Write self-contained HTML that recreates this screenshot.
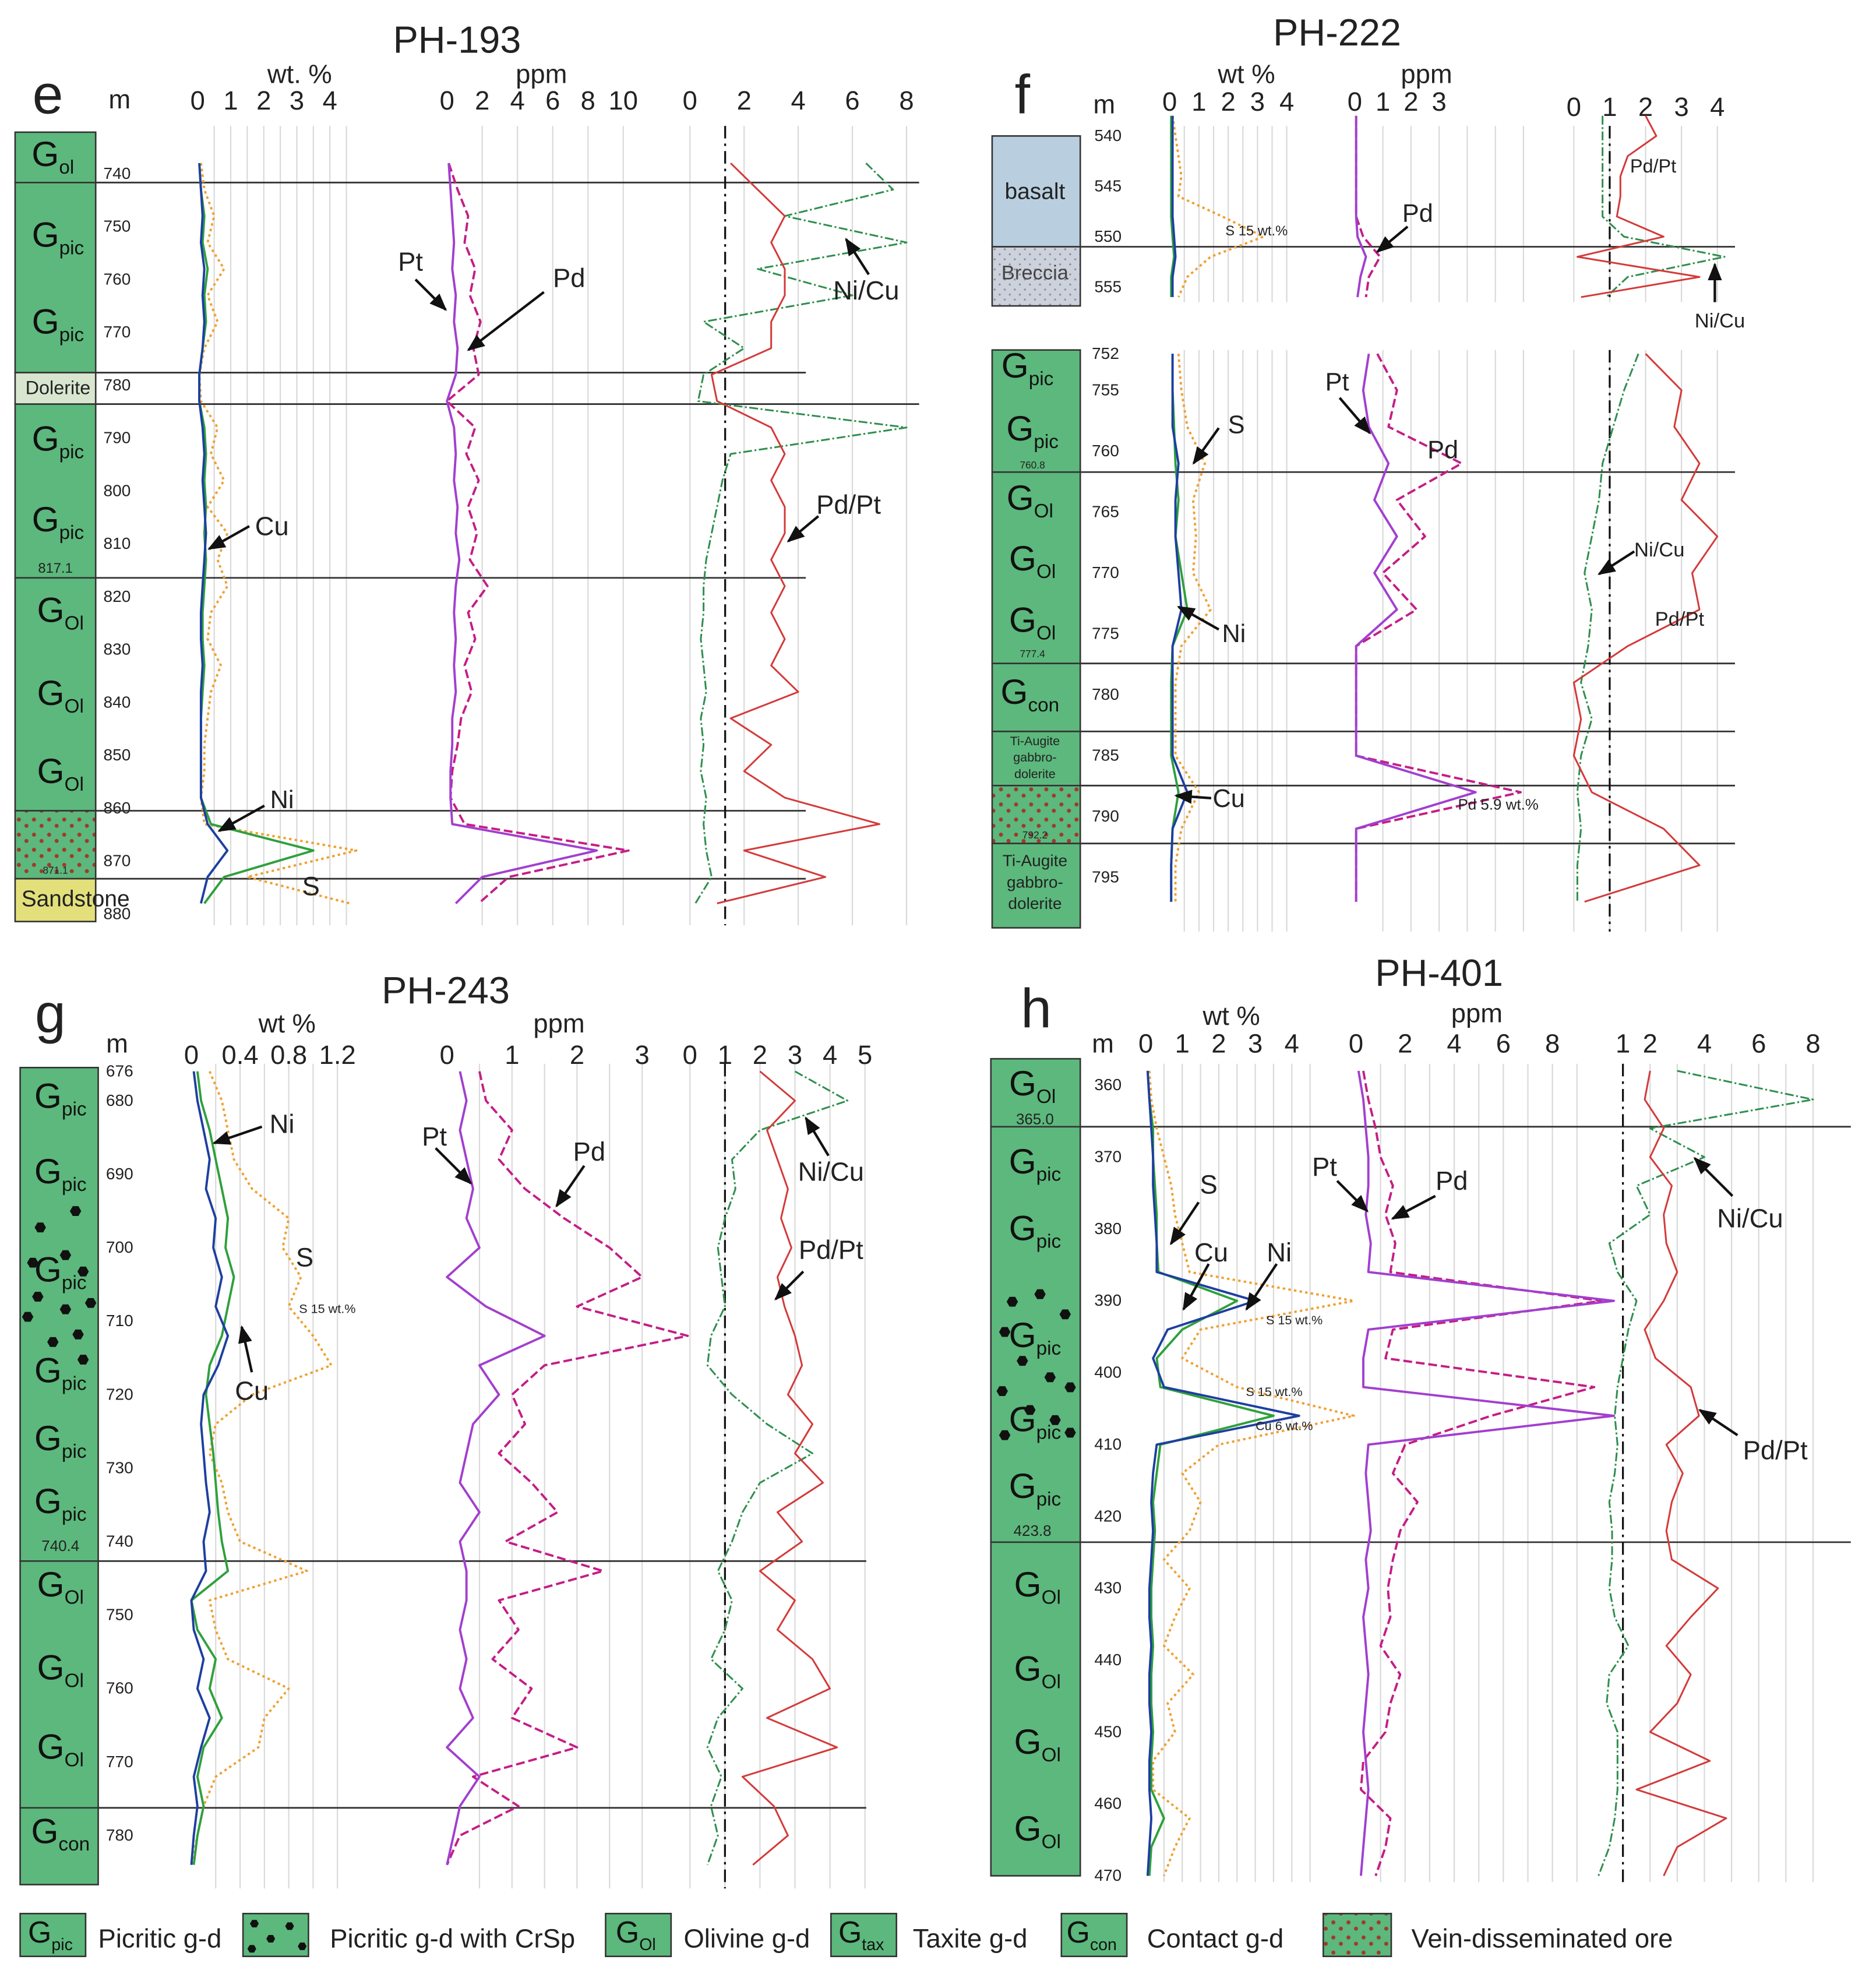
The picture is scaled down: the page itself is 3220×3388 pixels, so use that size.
<!DOCTYPE html>
<html><head><meta charset="utf-8">
<style>
html,body{margin:0;padding:0;background:#fff;}
svg{display:block;font-family:"Liberation Sans",sans-serif;}
</style></head>
<body>
<svg id="chart" xmlns="http://www.w3.org/2000/svg" width="3220" height="3388" viewBox="0 0 1490 1568" preserveAspectRatio="none">
<defs>
<marker id="ah" viewBox="0 0 10 10" refX="9" refY="5" markerWidth="7" markerHeight="7" orient="auto"><path d="M0,1 L10,5 L0,9 z" fill="#111"/></marker>
<pattern id="ore" width="12" height="12" patternUnits="userSpaceOnUse"><rect width="12" height="12" fill="#5cb87c"/><circle cx="3" cy="3" r="1.6" fill="#a03a2a"/><circle cx="9" cy="8" r="1.6" fill="#a03a2a"/></pattern>
<pattern id="brec" width="8" height="8" patternUnits="userSpaceOnUse"><rect width="8" height="8" fill="#cdd1dc"/><circle cx="2" cy="2" r="0.8" fill="#8890a0"/><circle cx="6" cy="6" r="0.8" fill="#8890a0"/></pattern>
</defs>
</svg>
<script>
// ===== Data =====
// Panel e (PH-193)
const eDepth=[738,743,748,753,758,763,768,773,778,783,788,793,798,803,808,813,818,823,828,833,838,843,848,853,858,863,868,873,878];
const eCu=[0.05,0.1,0.15,0.1,0.2,0.15,0.2,0.15,0.05,0.05,0.15,0.2,0.15,0.2,0.25,0.2,0.15,0.1,0.1,0.15,0.1,0.1,0.1,0.1,0.1,0.3,0.9,0.3,0.1];
const eNi=[0.05,0.1,0.2,0.15,0.3,0.2,0.25,0.15,0.05,0.05,0.2,0.25,0.2,0.25,0.2,0.25,0.2,0.15,0.15,0.2,0.15,0.1,0.1,0.1,0.1,0.4,3.5,0.8,0.2];
const eS=[0.1,0.2,0.5,0.3,0.8,0.3,0.6,0.2,0.05,0.1,0.6,0.4,0.8,0.3,0.9,0.6,0.9,0.4,0.3,0.7,0.4,0.3,0.2,0.2,0.1,0.2,4.8,1.5,4.6];
const ePt=[0.1,0.2,0.3,0.4,0.3,0.5,0.4,0.6,0.5,0.0,0.4,0.5,0.4,0.6,0.5,0.7,0.5,0.4,0.5,0.4,0.5,0.3,0.3,0.2,0.2,0.3,8.5,2.0,0.5];
const ePd=[0.1,0.6,1.2,1.0,1.6,1.3,1.9,1.5,1.8,0.0,1.6,1.1,1.8,1.2,1.7,1.3,2.3,1.2,1.6,1.0,1.4,0.8,0.6,0.3,0.2,1.0,10.3,3.5,1.8];
const eNiCu=[6.5,7.5,3.5,8,2.5,6,0.5,2,0.5,0.3,8,1.5,1.2,1.0,0.8,0.6,0.5,0.5,0.4,0.5,0.6,0.4,0.5,0.4,0.6,0.5,0.6,0.8,0.2];
const ePdPt=[1.5,2.5,3.5,3,3.5,3.5,3,3,0.8,1,3,3.5,3,3.5,3.5,3,3.5,3,3.5,3,4,1.5,3,2,3.5,7,2,5,1];
// Panel f (PH-222) upper
const fuDepth=[538,540,542,544,546,548,550,552,554,556];
const fuCu=[0.1,0.1,0.1,0.1,0.1,0.1,0.15,0.2,0.1,0.1];
const fuNi=[0.05,0.05,0.05,0.05,0.05,0.05,0.1,0.15,0.05,0.05];
const fuS=[0.1,0.2,0.3,0.4,0.3,1.8,3.2,1.4,0.6,0.3];
const fuPt=[0.05,0.05,0.05,0.05,0.05,0.05,0.1,0.4,0.2,0.1];
const fuPd=[0.05,0.05,0.05,0.05,0.05,0.05,0.3,0.9,0.5,0.4];
const fuNiCu=[0.8,0.8,0.8,0.8,0.8,0.8,1.4,4.2,1.5,0.9];
const fuPdPt=[2,2.3,1.5,1.3,1.3,1.2,2.5,0.1,3.5,0.2];
// Panel f lower
const flDepth=[752,755,758,761,764,767,770,773,776,779,782,785,788,791,794,797];
const flCu=[0.1,0.1,0.1,0.3,0.2,0.2,0.3,0.4,0.1,0.1,0.1,0.1,0.6,0.1,0.05,0.05];
const flNi=[0.1,0.1,0.15,0.2,0.3,0.2,0.4,0.6,0.1,0.05,0.05,0.05,0.3,0.1,0.05,0.05];
const flS=[0.3,0.4,0.6,1.2,0.8,0.9,0.8,1.4,0.4,0.2,0.2,0.2,1.0,0.4,0.2,0.2];
const flPt=[0.5,0.3,0.5,1.2,0.7,1.5,0.7,1.5,0.05,0.05,0.05,0.05,4.3,0.05,0.05,0.05];
const flPd=[0.8,1.5,1.2,3.8,1.5,2.5,1.0,2.2,0.05,0.05,0.05,0.05,5.9,0.05,0.05,0.05];
const flNiCu=[1.8,1.4,1.1,0.8,0.7,0.5,0.3,0.5,0.4,0.2,0.5,0.2,0.1,0.2,0.1,0.1];
const flPdPt=[2,3,2.8,3.5,3,4,3.3,3.5,1.5,0,0.2,0,0.5,2.5,3.5,0.3];
// Panel g (PH-243)
const gDepth=[676,680,684,688,692,696,700,704,708,712,716,720,724,728,732,736,740,744,748,752,756,760,764,768,772,776,780,784];
const gCu=[0.02,0.05,0.1,0.15,0.12,0.2,0.18,0.25,0.2,0.3,0.22,0.1,0.08,0.1,0.12,0.15,0.1,0.12,0.0,0.02,0.1,0.05,0.15,0.08,0.02,0.05,0.02,0.0];
const gNi=[0.05,0.08,0.15,0.2,0.25,0.3,0.28,0.35,0.3,0.25,0.15,0.12,0.15,0.18,0.2,0.22,0.25,0.3,0.0,0.05,0.2,0.15,0.25,0.1,0.05,0.1,0.05,0.02];
const gS=[0.15,0.25,0.3,0.35,0.5,0.8,0.75,0.9,0.8,1.0,1.15,0.5,0.2,0.15,0.25,0.3,0.4,0.95,0.15,0.2,0.3,0.8,0.6,0.55,0.2,0.1,0.05,0.0];
const gPt=[0.2,0.3,0.2,0.3,0.4,0.3,0.5,0.0,0.6,1.5,0.5,0.8,0.4,0.3,0.2,0.5,0.2,0.3,0.3,0.2,0.3,0.2,0.4,0.0,0.5,0.2,0.1,0.0];
const gPd=[0.5,0.6,1.0,0.8,1.2,1.8,2.5,3.0,2.0,3.7,1.5,1.0,1.2,0.8,1.3,1.7,0.9,2.4,0.8,1.1,0.7,1.3,1.0,2.0,0.4,1.1,0.2,0.0];
const gNiCu=[3,4.5,2,1.2,1.3,1.0,0.8,0.9,1.0,0.6,0.5,1.2,2.2,3.5,2,1.5,1.2,0.8,1.2,1,0.6,1.5,0.8,0.5,0.9,0.6,0.8,0.5];
const gPdPt=[2,3,2.2,2.5,2.8,2.6,2.9,2.5,2.7,3.0,3.2,2.8,3.5,3,3.8,2.5,3.2,2,3,2.5,3.5,4,2.2,4.2,1.5,2.4,2.8,1.8];
// Panel h (PH-401)
const hDepth=[358,362,366,370,374,378,382,386,390,394,398,402,406,410,414,418,422,426,430,434,438,442,446,450,454,458,462,466,470];
const hCu=[0.05,0.1,0.15,0.2,0.2,0.25,0.3,0.3,3.0,0.6,0.2,0.5,4.2,0.3,0.2,0.15,0.2,0.15,0.1,0.1,0.15,0.1,0.1,0.15,0.1,0.1,0.15,0.1,0.05];
const hNi=[0.05,0.1,0.2,0.2,0.25,0.3,0.3,0.35,2.5,1.0,0.3,0.4,3.5,0.4,0.3,0.2,0.25,0.2,0.15,0.15,0.2,0.15,0.15,0.2,0.15,0.15,0.5,0.15,0.1];
const hS=[0.1,0.15,0.3,0.5,0.7,0.8,1.0,1.2,5.7,1.5,1.0,2.5,5.7,2.0,1.0,1.5,1.2,0.5,1.2,0.8,0.5,1.3,0.6,0.8,0.2,0.2,1.2,0.8,0.5];
const hPt=[0.1,0.3,0.4,0.5,0.5,0.4,0.6,0.5,10.5,0.5,0.3,0.3,10.5,0.5,0.4,0.5,0.6,0.4,0.5,0.3,0.4,0.5,0.4,0.3,0.4,0.5,0.4,0.3,0.2];
const hPd=[0.3,0.5,0.8,1.0,1.5,1.2,1.6,1.4,10.0,1.5,1.2,9.7,5.5,2.0,1.5,2.5,1.8,1.5,1.3,1.4,1.0,1.8,1.4,1.2,0.3,0.2,1.4,1.2,0.8];
const hNiCu=[3,8,2,4,1.5,2,0.5,0.8,1.5,1.2,1.0,0.8,0.7,0.8,0.7,0.5,0.6,0.6,0.5,0.7,1.2,0.5,0.4,0.8,0.8,0.8,0.7,0.5,0.1];
const hPdPt=[2,1.8,2.5,2,2.8,2.5,2.6,3,2.5,1.8,2.2,3.5,3.8,2.6,3.2,2.8,2.6,2.8,4.5,3.5,2.6,3.5,3.0,2.0,4.2,1.5,4.8,3,2.5];

// Tick arrays
const eTicksWt=[0,1,2,3,4], eTicksPpm=[0,2,4,6,8,10], eTicksRat=[0,2,4,6,8];
const fTicksWt=[0,1,2,3,4], fTicksPpm=[0,1,2,3], fTicksRat=[0,1,2,3,4];
const gTicksWt=[0,0.4,0.8,1.2], gTicksPpm=[0,1,2,3], gTicksRat=[0,1,2,3,4,5];
const hTicksWt=[0,1,2,3,4], hTicksPpm=[0,2,4,6,8], hTicksRat=[1,2,4,6,8];

// ===== Drawing helpers =====
const NS='http://www.w3.org/2000/svg';
const svg=document.getElementById('chart');
function mk(tag,attrs,name,parent){
  const el=document.createElementNS(NS,tag);
  for(const k in attrs) el.setAttribute(k,attrs[k]);
  
  
  (parent||svg).appendChild(el);
  return el;
}
function txt(x,y,s,size,name,anchor,fill,weight){
  const t=mk('text',{x:x,y:y,'font-size':size,'text-anchor':anchor||'middle',fill:fill||'#222'},name);
  if(weight) t.setAttribute('font-weight',weight);
  t.textContent=s;return t;
}
function lin(a,b,c,d,name,stroke,w,dash){
  const l=mk('line',{x1:a,y1:b,x2:c,y2:d,stroke:stroke||'#222','stroke-width':w||1.2},name);
  if(dash) l.setAttribute('stroke-dasharray',dash);
  return l;
}
function lscale(v0,p0,v1,p1){return v=>p0+(v-v0)*(p1-p0)/(v1-v0);}
const ST={
  Cu:{c:'#1e3fa0',w:1.8,d:null},
  Ni:{c:'#2fa03c',w:1.8,d:null},
  S:{c:'#f0a030',w:1.8,d:'2 2.5'},
  Pt:{c:'#a23fcf',w:1.8,d:null},
  Pd:{c:'#c41d86',w:1.8,d:'7 3'},
  NiCu:{c:'#2f8f4f',w:1.4,d:'7 2 1.5 2'},
  PdPt:{c:'#d43a3a',w:1.4,d:null}
};
function series(depths,vals,xf,yf,key,name){
  const pts=depths.map((d,i)=>xf(vals[i]).toFixed(1)+','+yf(d).toFixed(1)).join(' ');
  const s=ST[key];
  const p=mk('polyline',{points:pts,fill:'none',stroke:s.c,'stroke-width':s.w,'stroke-linejoin':'round'},name);
  if(s.d) p.setAttribute('stroke-dasharray',s.d);
}
function grid(ticks,xf,y0,y1,name){
  ticks.forEach(t=>lin(xf(t),y0,xf(t),y1,name,'#d9d9d9',1));
}
function tickLabels(ticks,xf,y,size,name){
  ticks.forEach(t=>txt(xf(t),y,String(t),size,name));
}
function arrow(x1,y1,x2,y2,label,lx,ly,size,name){
  const l=lin(x1,y1,x2,y2,name+'-arrow','#111',2);
  l.setAttribute('marker-end','url(#ah)');
  if(label) txt(lx,ly,label,size||20,name+'-label');
}
function lith(x,y,w,h,fill,name){
  mk('rect',{x:x,y:y,width:w,height:h,fill:fill,stroke:'#333','stroke-width':1.2},name);
}
function glabel(x,y,sub,name,size){
  const t=mk('text',{x:x,y:y,'font-size':size||28,'text-anchor':'middle',fill:'#111'},name);
  t.appendChild(document.createTextNode('G'));
  const ts=document.createElementNS(NS,'tspan');
  ts.setAttribute('font-size',(size||28)*0.55);ts.setAttribute('dy','6');
  ts.textContent=sub;t.appendChild(ts);
}
function hexdots(cx,cy,r,name){
  const pts=[];for(let k=0;k<6;k++){const a=Math.PI/3*k;pts.push((cx+r*Math.cos(a)).toFixed(1)+','+(cy+r*Math.sin(a)).toFixed(1));}
  mk('polygon',{points:pts.join(' '),fill:'#111'},name);
}

// ===== Panel e =====
(function(){
  const y=lscale(740,138,880,726);
  const xw=lscale(0,157,4,262), xp=lscale(0,355,10,495), xr=lscale(0,548,8,720);
  grid([0.5,1,1.5,2,2.5,3,3.5,4,4.5],xw,100,735,'e-grid-wt');
  grid([2,4,6,8,10],xp,100,735,'e-grid-ppm');
  grid([0,2,4,6,8],xr,100,735,'e-grid-ratio');
  txt(363,42,'PH-193',30,'e-title');
  txt(38,90,'e',44,'e-panel-letter');
  txt(95,86,'m',21,'e-depth-unit');
  txt(238,66,'wt. %',21,'e-wt-unit');
  txt(430,66,'ppm',21,'e-ppm-unit');
  tickLabels(eTicksWt,xw,87,21,'e-tick-wt');
  tickLabels(eTicksPpm,xp,87,21,'e-tick-ppm');
  tickLabels(eTicksRat,xr,87,21,'e-tick-ratio');
  lith(12,105,64,40,'#5cb87c','e-lith-gol');glabel(42,132,'ol','e-lith-gol-label');
  lith(12,145,64,151,'#5cb87c','e-lith-gpic1');glabel(46,196,'pic','e-lith-gpic-label');glabel(46,265,'pic','e-lith-gpic-label2');
  lith(12,296,64,25,'#d8e6cf','e-lith-dolerite');txt(46,313,'Dolerite',15,'e-lith-dolerite-label');
  lith(12,321,64,138,'#5cb87c','e-lith-gpic2');glabel(46,358,'pic','e-lith-gpic-label3');glabel(46,422,'pic','e-lith-gpic-label4');txt(44,455,'817.1',11,'e-lith-depth-note');
  lith(12,459,64,185,'#5cb87c','e-lith-gol2');glabel(48,494,'Ol','e-lith-gol-label2');glabel(48,560,'Ol','e-lith-gol-label3');glabel(48,622,'Ol','e-lith-gol-label4');
  lith(12,644,64,54,'url(#ore)','e-lith-ore');txt(44,694,'871.1',8,'e-lith-ore-note');
  lith(12,698,64,34,'#e3e07c','e-lith-sandstone');txt(60,720,'Sandstone',18,'e-lith-sandstone-label');
  for(let d=740;d<=880;d+=10) txt(93,y(d)+4,String(d),13,'e-depth-tick');
  [145,296,321,459,644,698].forEach(v=>lin(76,v,v===145||v===321?730:640,v,'e-boundary','#333',1.3));
  lin(xr(1.3),100,xr(1.3),735,'e-ratio-one-line','#111',1.5,'10 4 2 4');
  series(eDepth,eS,xw,y,'S','e-series-s');
  series(eDepth,eNi,xw,y,'Ni','e-series-ni');
  series(eDepth,eCu,xw,y,'Cu','e-series-cu');
  series(eDepth,ePd,xp,y,'Pd','e-series-pd');
  series(eDepth,ePt,xp,y,'Pt','e-series-pt');
  series(eDepth,eNiCu,xr,y,'NiCu','e-series-nicu');
  series(eDepth,ePdPt,xr,y,'PdPt','e-series-pdpt');
  arrow(330,222,354,246,'Pt',326,215,21,'e-pt-annot');
  arrow(432,232,372,278,'Pd',452,228,21,'e-pd-annot');
  arrow(690,218,672,190,'Ni/Cu',688,238,21,'e-nicu-annot');
  arrow(650,410,626,430,'Pd/Pt',674,408,21,'e-pdpt-annot');
  arrow(198,418,166,436,'Cu',216,425,21,'e-cu-annot');
  arrow(210,640,174,660,'Ni',224,642,20,'e-ni-annot');
  txt(247,711,'S',21,'e-s-label');
})();

// ===== Panel f =====
(function(){
  const yu=lscale(540,108,555,228), yl=lscale(752,281,795,697);
  const xw=lscale(0,929,4,1022), xp=lscale(0,1076,3,1143), xr=lscale(0,1250,4,1364);
  [[100,240],[278,740]].forEach(r=>{
    grid([0.5,1,1.5,2,2.5,3,3.5,4],xw,r[0],r[1],'f-grid-wt');
    grid([1,2,3,4,5,6],xp,r[0],r[1],'f-grid-ppm');
    grid([0,1,2,3,4],xr,r[0],r[1],'f-grid-ratio');
  });
  txt(1062,36,'PH-222',30,'f-title');
  txt(812,90,'f',44,'f-panel-letter');
  txt(877,90,'m',21,'f-depth-unit');
  txt(990,66,'wt %',21,'f-wt-unit');
  txt(1133,66,'ppm',21,'f-ppm-unit');
  tickLabels(fTicksWt,xw,88,21,'f-tick-wt');
  tickLabels(fTicksPpm,xp,88,21,'f-tick-ppm');
  tickLabels(fTicksRat,xr,92,21,'f-tick-ratio');
  lith(788,108,70,88,'#b9cfe0','f-lith-basalt');txt(822,158,'basalt',18,'f-lith-basalt-label');
  lith(788,196,70,47,'url(#brec)','f-lith-breccia');txt(822,222,'Breccia',16,'f-lith-breccia-label','middle','#444');
  lith(788,278,70,97,'#5cb87c','f-lith-gpic');glabel(816,300,'pic','f-lith-gpic-label');glabel(820,350,'pic','f-lith-gpic-label2');txt(820,372,'760.8',8,'f-lith-note');
  lith(788,375,70,152,'#5cb87c','f-lith-gol');glabel(818,405,'Ol','f-lith-gol-label');glabel(820,453,'Ol','f-lith-gol-label2');glabel(820,502,'Ol','f-lith-gol-label3');txt(820,522,'777.4',8,'f-lith-note2');
  lith(788,527,70,54,'#5cb87c','f-lith-gcon');glabel(818,559,'con','f-lith-gcon-label');
  lith(788,581,70,43,'#5cb87c','f-lith-tiaugite');txt(822,592,'Ti-Augite',10,'f-lith-tiaug-label');txt(822,605,'gabbro-',10,'f-lith-tiaug-label2');txt(822,618,'dolerite',10,'f-lith-tiaug-label3');
  lith(788,624,70,46,'url(#ore)','f-lith-ore');txt(822,666,'792.2',8,'f-lith-ore-note');
  lith(788,670,70,67,'#5cb87c','f-lith-tiaugite2');txt(822,688,'Ti-Augite',13,'f-lith-tiaug2-label');txt(822,705,'gabbro-',13,'f-lith-tiaug2-label2');txt(822,722,'dolerite',13,'f-lith-tiaug2-label3');
  for(let d=540;d<=555;d+=5) txt(880,yu(d)+4,String(d),13,'f-depth-tick');
  [752,755,760,765,770,775,780,785,790,795].forEach(d=>txt(878,yl(d)+4,String(d),13,'f-depth-tick-lower'));
  lin(858,196,1378,196,'f-boundary','#333',1.3);
  [375,527,581,624,670].forEach(v=>lin(858,v,1378,v,'f-boundary','#333',1.3));
  lin(xr(1),100,xr(1),240,'f-ratio-one-line','#111',1.5,'10 4 2 4');
  lin(xr(1),278,xr(1),740,'f-ratio-one-line-lower','#111',1.5,'10 4 2 4');
  series(fuDepth,fuS,xw,yu,'S','f-series-s-upper');
  series(fuDepth,fuNi,xw,yu,'Ni','f-series-ni-upper');
  series(fuDepth,fuCu,xw,yu,'Cu','f-series-cu-upper');
  series(fuDepth,fuPd,xp,yu,'Pd','f-series-pd-upper');
  series(fuDepth,fuPt,xp,yu,'Pt','f-series-pt-upper');
  series(fuDepth,fuNiCu,xr,yu,'NiCu','f-series-nicu-upper');
  series(fuDepth,fuPdPt,xr,yu,'PdPt','f-series-pdpt-upper');
  series(flDepth,flS,xw,yl,'S','f-series-s');
  series(flDepth,flNi,xw,yl,'Ni','f-series-ni');
  series(flDepth,flCu,xw,yl,'Cu','f-series-cu');
  series(flDepth,flPd,xp,yl,'Pd','f-series-pd');
  series(flDepth,flPt,xp,yl,'Pt','f-series-pt');
  series(flDepth,flNiCu,xr,yl,'NiCu','f-series-nicu');
  series(flDepth,flPdPt,xr,yl,'PdPt','f-series-pdpt');
  txt(998,187,'S 15 wt.%',11,'f-s-note');
  arrow(1118,180,1094,200,'Pd',1126,176,20,'f-pd-annot-upper');
  txt(1313,137,'Pd/Pt',15,'f-pdpt-label-upper');
  arrow(1362,240,1362,210,'Ni/Cu',1366,260,16,'f-nicu-annot-upper');
  arrow(1064,316,1088,344,'Pt',1062,310,20,'f-pt-annot');
  txt(1146,364,'Pd',20,'f-pd-label');
  arrow(968,340,948,368,'S',982,344,20,'f-s-annot');
  arrow(968,500,936,482,'Ni',980,510,20,'f-ni-annot');
  arrow(962,634,934,632,'Cu',976,641,20,'f-cu-annot');
  txt(1190,643,'Pd 5.9 wt.%',12,'f-pd-note');
  arrow(1298,438,1270,456,'Ni/Cu',1318,442,16,'f-nicu-annot');
  txt(1334,497,'Pd/Pt',16,'f-pdpt-label');
})();

// ===== Panel g =====
(function(){
  const y=lscale(676,851,780,1458);
  const xw=lscale(0,152,1.2,268), xp=lscale(0,355,3,510), xr=lscale(0,548,5,687);
  grid([0.2,0.4,0.6,0.8,1.0,1.2],xw,845,1500,'g-grid-wt');
  grid([0.5,1,1.5,2,2.5,3],xp,845,1500,'g-grid-ppm');
  grid([0,1,2,3,4,5],xr,845,1500,'g-grid-ratio');
  txt(354,797,'PH-243',30,'g-title');
  txt(40,820,'g',44,'g-panel-letter');
  txt(93,836,'m',21,'g-depth-unit');
  txt(228,820,'wt %',21,'g-wt-unit');
  txt(444,820,'ppm',21,'g-ppm-unit');
  tickLabels(gTicksWt,xw,845,21,'g-tick-wt');
  tickLabels(gTicksPpm,xp,845,21,'g-tick-ppm');
  tickLabels(gTicksRat,xr,845,21,'g-tick-ratio');
  lith(16,848,62,392,'#5cb87c','g-lith-gpic');
  [[880,'pic'],[940,'pic'],[1018,'pic'],[1098,'pic'],[1152,'pic'],[1202,'pic']].forEach(a=>glabel(48,a[0],a[1],'g-lith-gpic-label'));
  txt(48,1232,'740.4',12,'g-lith-note');
  [[60,962],[32,975],[52,997],[26,1003],[66,1010],[30,1030],[52,1040],[72,1035],[22,1046],[42,1066],[62,1060],[66,1080]].forEach((p,i)=>hexdots(p[0],p[1],4.5,'g-crsp-dot'));
  lith(16,1240,62,196,'#5cb87c','g-lith-gol');
  [1268,1334,1397].forEach(v=>glabel(48,v,'Ol','g-lith-gol-label'));
  lith(16,1436,62,61,'#5cb87c','g-lith-gcon');glabel(48,1464,'con','g-lith-gcon-label');
  txt(95,y(676)+4,'676',13,'g-depth-tick');
  for(let d=680;d<=780;d+=10) txt(95,y(d)+4,String(d),13,'g-depth-tick');
  [1240,1436].forEach(v=>lin(78,v,688,v,'g-boundary','#333',1.3));
  lin(xr(1),845,xr(1),1500,'g-ratio-one-line','#111',1.5,'10 4 2 4');
  series(gDepth,gS,xw,y,'S','g-series-s');
  series(gDepth,gNi,xw,y,'Ni','g-series-ni');
  series(gDepth,gCu,xw,y,'Cu','g-series-cu');
  series(gDepth,gPd,xp,y,'Pd','g-series-pd');
  series(gDepth,gPt,xp,y,'Pt','g-series-pt');
  series(gDepth,gNiCu,xr,y,'NiCu','g-series-nicu');
  series(gDepth,gPdPt,xr,y,'PdPt','g-series-pdpt');
  arrow(208,895,170,908,'Ni',224,900,21,'g-ni-annot');
  arrow(200,1090,192,1054,'Cu',200,1112,21,'g-cu-annot');
  txt(242,1006,'S',21,'g-s-label');
  txt(260,1043,'S 15 wt.%',10,'g-s-note');
  arrow(346,912,374,940,'Pt',345,910,21,'g-pt-annot');
  arrow(464,926,442,958,'Pd',468,922,21,'g-pd-annot');
  arrow(658,918,640,888,'Ni/Cu',660,938,21,'g-nicu-annot');
  arrow(638,1010,616,1032,'Pd/Pt',660,1000,21,'g-pdpt-annot');
})();

// ===== Panel h =====
(function(){
  const y=lscale(360,862,470,1490);
  const xw=lscale(0,910,4,1026), xp=lscale(0,1077,8,1233), xr=lscale(1,1289,8,1440);
  grid([0.5,1,1.5,2,2.5,3,3.5,4,4.5],xw,845,1495,'h-grid-wt');
  grid([1,2,3,4,5,6,7,8,9],xp,845,1495,'h-grid-ppm');
  grid([2,3,4,5,6,7,8],xr,845,1495,'h-grid-ratio');
  txt(1143,783,'PH-401',30,'h-title');
  txt(823,816,'h',44,'h-panel-letter');
  txt(876,836,'m',21,'h-depth-unit');
  txt(978,814,'wt %',21,'h-wt-unit');
  txt(1173,812,'ppm',21,'h-ppm-unit');
  tickLabels(hTicksWt,xw,836,21,'h-tick-wt');
  tickLabels(hTicksPpm,xp,836,21,'h-tick-ppm');
  tickLabels(hTicksRat,xr,836,21,'h-tick-ratio');
  lith(787,841,71,54,'#5cb87c','h-lith-gol');glabel(820,870,'Ol','h-lith-gol-label');txt(822,893,'365.0',12,'h-lith-note');
  lith(787,895,71,330,'#5cb87c','h-lith-gpic');
  [[932,'pic'],[985,'pic'],[1070,'pic'],[1137,'pic'],[1190,'pic']].forEach(a=>glabel(822,a[0],a[1],'h-lith-gpic-label'));
  txt(820,1220,'423.8',12,'h-lith-note2');
  [[804,1034],[826,1028],[846,1044],[798,1058],[812,1081],[834,1094],[850,1102],[796,1105],[818,1120],[838,1128],[850,1138],[798,1140]].forEach(p=>hexdots(p[0],p[1],4.5,'h-crsp-dot'));
  lith(787,1225,71,265,'#5cb87c','h-lith-gol2');
  [1268,1335,1393,1462].forEach(v=>glabel(824,v,'Ol','h-lith-gol-label2'));
  for(let d=360;d<=470;d+=10) txt(880,y(d)+4,String(d),13,'h-depth-tick');
  [895,1225].forEach(v=>lin(858,v,1470,v,'h-boundary','#333',1.3));
  lin(xr(1),845,xr(1),1495,'h-ratio-one-line','#111',1.5,'10 4 2 4');
  series(hDepth,hS,xw,y,'S','h-series-s');
  series(hDepth,hNi,xw,y,'Ni','h-series-ni');
  series(hDepth,hCu,xw,y,'Cu','h-series-cu');
  series(hDepth,hPd,xp,y,'Pd','h-series-pd');
  series(hDepth,hPt,xp,y,'Pt','h-series-pt');
  series(hDepth,hNiCu,xr,y,'NiCu','h-series-nicu');
  series(hDepth,hPdPt,xr,y,'PdPt','h-series-pdpt');
  arrow(952,955,930,988,'S',960,948,21,'h-s-annot');
  arrow(960,1004,940,1040,'Cu',962,1002,21,'h-cu-annot');
  arrow(1014,1004,990,1040,'Ni',1016,1002,21,'h-ni-annot');
  txt(1028,1052,'S 15 wt.%',10,'h-s-note');
  txt(1012,1109,'S 15 wt.%',10,'h-s-note2');
  txt(1020,1136,'Cu 6 wt.%',10,'h-cu-note');
  arrow(1062,938,1086,962,'Pt',1052,934,21,'h-pt-annot');
  arrow(1140,950,1106,968,'Pd',1153,945,21,'h-pd-annot');
  arrow(1376,950,1346,920,'Ni/Cu',1390,975,21,'h-nicu-annot');
  arrow(1380,1140,1350,1120,'Pd/Pt',1410,1159,21,'h-pdpt-annot');
})();

// ===== Legend =====
(function(){
  const items=[
    [16,'pic','#5cb87c',78,'Picritic g-d',''],
    [193,'','#5cb87c',262,'Picritic g-d with CrSp','dots'],
    [481,'Ol','#5cb87c',543,'Olivine g-d',''],
    [660,'tax','#5cb87c',725,'Taxite g-d',''],
    [843,'con','#5cb87c',911,'Contact g-d',''],
    [1051,'','url(#ore)',1121,'Vein-disseminated ore','']
  ];
  items.forEach(it=>{
    lith(it[0],1520,it[0]===193?52:(it[0]===1051?54:52),34,it[2],'legend-swatch');
    if(it[1]) glabel(it[0]+24,1543,it[1],'legend-swatch-label',24);
    if(it[5]==='dots'){[[202,1528],[230,1530],[215,1540],[240,1546],[200,1548]].forEach(p=>hexdots(p[0],p[1],3.5,'legend-crsp-dot'));}
    txt(it[3],1547,it[4],21,'legend-entry','start');
  });
})();
</script>
</body></html>
